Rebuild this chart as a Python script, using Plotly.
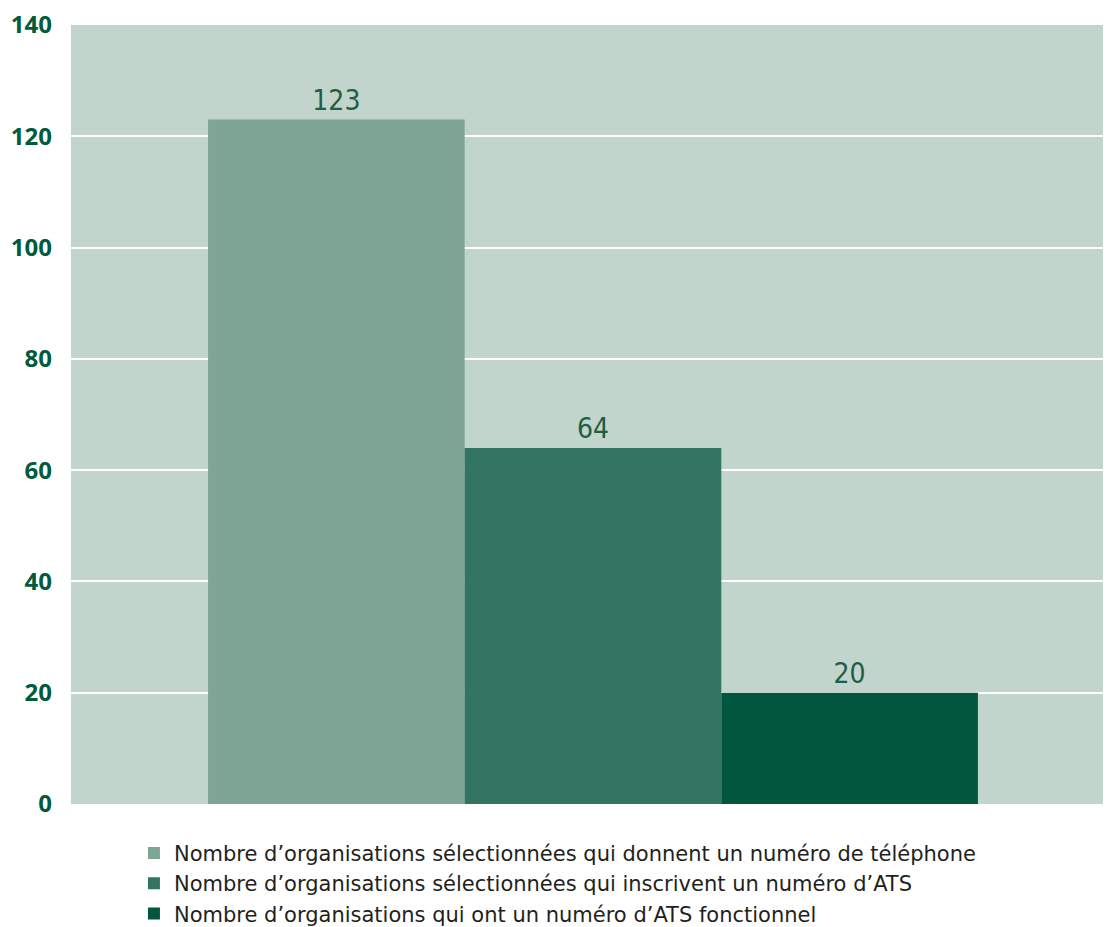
import plotly.graph_objects as go

categories = ["Organisations"]
series_names = [
    "Nombre d’organisations sélectionnées qui donnent un numéro de téléphone",
    "Nombre d’organisations sélectionnées qui inscrivent un numéro d’ATS",
    "Nombre d’organisations qui ont un numéro d’ATS fonctionnel",
]
series_values = [[123], [64], [20]]
colors = ["#7fa595", "#337560", "#00573d"]
y_ticks = [0, 20, 40, 60, 80, 100, 120, 140]

fig = go.Figure()
for name, vals, col in zip(series_names, series_values, colors):
    fig.add_trace(go.Bar(
        x=categories, y=vals, name=name,
        marker=dict(color=col, line=dict(width=0)),
        text=[str(v) for v in vals], textposition="outside",
        textfont=dict(family="DejaVu Sans Condensed", size=28, color="#1f5e45"),
        cliponaxis=False,
    ))

fig.update_layout(
    width=1095, height=927,
    margin=dict(l=63, r=0, t=17, b=131, autoexpand=False),
    paper_bgcolor="white", plot_bgcolor="#c1d5cc",
    barmode="group", bargap=0.254, bargroupgap=0,
    showlegend=True,
    legend=dict(
        orientation="v", x=0.061, xanchor="left", y=-0.037, yanchor="top",
        font=dict(family="DejaVu Sans", size=21, color="#231f20"),
        itemsizing="constant", tracegroupgap=0, bgcolor="rgba(0,0,0,0)",
    ),
    xaxis=dict(showticklabels=False, showgrid=False, zeroline=False, showline=False,
               automargin=False, range=[-0.5058, 0.4942]),
    yaxis=dict(
        range=[0, 140], tickvals=y_ticks, ticktext=[str(v) for v in y_ticks],
        showgrid=True, gridcolor="white", gridwidth=2, zeroline=False, showline=False,
        tickfont=dict(family="Open Sans", size=24, color="#005a3c", weight="bold"),
        ticklabelstandoff=18, automargin=False, ticklabeloverflow="allow",
    ),
)
fig.write_html("out.html")
